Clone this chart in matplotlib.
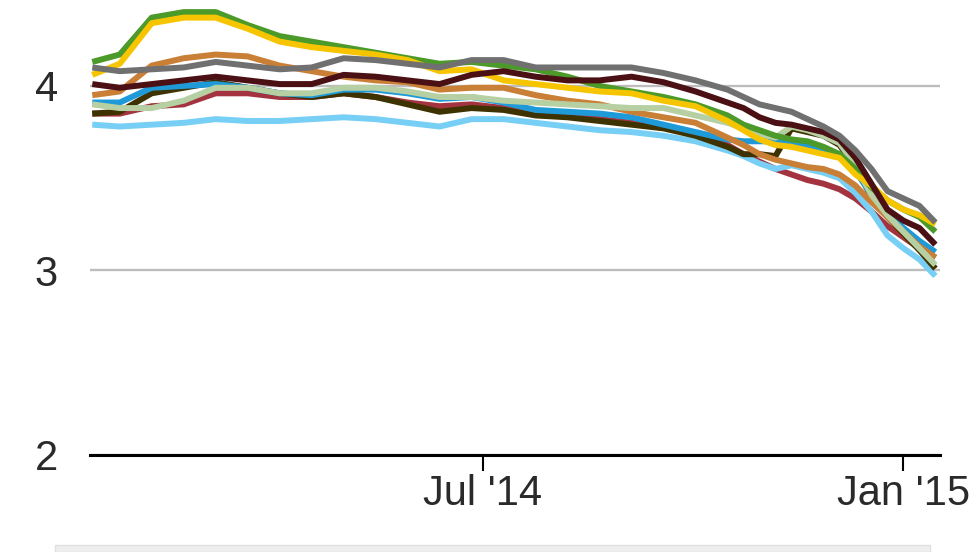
import matplotlib
matplotlib.use('Agg')
import matplotlib.pyplot as plt
from matplotlib.patches import Rectangle
from datetime import datetime

plt.rcParams['font.family'] = ['Liberation Sans', 'DejaVu Sans']

# fechas de cada lectura (quincenal al principio, semanal al final)
fechas_txt = [
    "2014-01-11", "2014-01-23", "2014-02-06", "2014-02-20", "2014-03-06",
    "2014-03-20", "2014-04-03", "2014-04-17", "2014-05-01", "2014-05-15",
    "2014-05-29", "2014-06-12", "2014-06-26", "2014-07-10", "2014-07-24",
    "2014-08-07", "2014-08-21", "2014-09-04", "2014-09-18", "2014-10-02",
    "2014-10-16", "2014-10-23", "2014-10-30", "2014-11-06", "2014-11-13",
    "2014-11-20", "2014-11-27", "2014-12-04", "2014-12-11", "2014-12-18",
    "2014-12-25", "2015-01-01", "2015-01-08", "2015-01-15",
]

verde = [4.13, 4.17, 4.37, 4.40, 4.40, 4.33, 4.27, 4.24, 4.21, 4.18, 4.15, 4.12,
         4.13, 4.11, 4.09, 4.05, 4.00, 3.97, 3.94, 3.90, 3.84, 3.79, 3.76, 3.73,
         3.71, 3.70, 3.67, 3.63, 3.55, 3.45, 3.38, 3.33, 3.29, 3.21]
amarillo = [4.06, 4.12, 4.34, 4.37, 4.37, 4.31, 4.24, 4.21, 4.19, 4.17, 4.14, 4.08,
            4.09, 4.03, 4.01, 3.99, 3.97, 3.96, 3.92, 3.89, 3.81, 3.76, 3.71, 3.68,
            3.67, 3.65, 3.63, 3.61, 3.52, 3.46, 3.38, 3.33, 3.30, 3.25]
gris = [4.10, 4.08, 4.09, 4.10, 4.13, 4.11, 4.09, 4.10, 4.15, 4.14, 4.12, 4.10,
        4.14, 4.14, 4.10, 4.10, 4.10, 4.10, 4.07, 4.03, 3.98, 3.94, 3.90, 3.88,
        3.86, 3.82, 3.78, 3.73, 3.65, 3.55, 3.43, 3.39, 3.35, 3.26]
granate = [4.01, 3.99, 4.01, 4.03, 4.05, 4.03, 4.01, 4.01, 4.06, 4.05, 4.03, 4.01,
           4.06, 4.08, 4.05, 4.03, 4.03, 4.05, 4.02, 3.97, 3.91, 3.88, 3.83, 3.80,
           3.79, 3.77, 3.75, 3.71, 3.61, 3.47, 3.33, 3.27, 3.23, 3.14]
ocre = [3.95, 3.97, 4.11, 4.15, 4.17, 4.16, 4.11, 4.08, 4.05, 4.03, 4.02, 3.98,
        3.99, 3.99, 3.95, 3.92, 3.90, 3.86, 3.83, 3.80, 3.72, 3.68, 3.63, 3.60,
        3.58, 3.56, 3.55, 3.52, 3.46, 3.37, 3.29, 3.21, 3.13, 3.07]
salvia = [3.90, 3.88, 3.88, 3.92, 3.99, 3.99, 3.96, 3.96, 3.99, 3.99, 3.97, 3.94,
          3.94, 3.92, 3.91, 3.90, 3.89, 3.88, 3.88, 3.84, 3.80, 3.77, 3.74, 3.72,
          3.78, 3.76, 3.73, 3.69, 3.57, 3.41, 3.30, 3.21, 3.12, 3.03]
oliva = [3.85, 3.86, 3.96, 3.99, 4.02, 3.99, 3.96, 3.94, 3.96, 3.94, 3.90, 3.86,
         3.88, 3.87, 3.84, 3.83, 3.81, 3.79, 3.77, 3.73, 3.67, 3.63, 3.63, 3.62,
         3.77, 3.75, 3.73, 3.68, 3.56, 3.40, 3.29, 3.20, 3.11, 3.01]
azul = [3.91, 3.91, 3.99, 4.00, 4.01, 3.99, 3.96, 3.95, 3.98, 3.98, 3.96, 3.93,
        3.94, 3.91, 3.87, 3.86, 3.85, 3.83, 3.79, 3.75, 3.71, 3.70, 3.70, 3.70,
        3.69, 3.68, 3.66, 3.63, 3.54, 3.41, 3.31, 3.23, 3.16, 3.10]
rojo = [3.85, 3.85, 3.89, 3.90, 3.96, 3.96, 3.94, 3.94, 3.96, 3.94, 3.91, 3.89,
        3.90, 3.88, 3.86, 3.84, 3.82, 3.80, 3.78, 3.73, 3.68, 3.63, 3.59, 3.55,
        3.52, 3.49, 3.47, 3.44, 3.39, 3.32, 3.24, 3.18, 3.12, 3.07]
celeste = [3.79, 3.78, 3.79, 3.80, 3.82, 3.81, 3.81, 3.82, 3.83, 3.82, 3.80, 3.78,
           3.82, 3.82, 3.80, 3.78, 3.76, 3.75, 3.73, 3.70, 3.65, 3.62, 3.58, 3.55,
           3.57, 3.55, 3.53, 3.50, 3.42, 3.32, 3.19, 3.12, 3.06, 2.97]

# orden de dibujo: de abajo hacia arriba
series = [
    (rojo, '#a3343f'),
    (celeste, '#78cff5'),
    (oliva, '#3d3200'),
    (azul, '#1f9ad8'),
    (ocre, '#c97f36'),
    (salvia, '#b7d0a3'),
    (verde, '#4c9a2a'),
    (amarillo, '#f6c500'),
    (granate, '#4a1014'),
    (gris, '#707070'),
]

ticks_x = [datetime(2014, 7, 1), datetime(2015, 1, 1)]
etiquetas_x = ["Jul '14", "Jan '15"]
ticks_y = [2, 3, 4]


def main():
    fechas = [datetime.strptime(f, "%Y-%m-%d") for f in fechas_txt]

    fig = plt.figure(figsize=(9.8, 5.52), dpi=100)
    ax = fig.add_axes([90 / 980, 97 / 552, 850 / 980, 455 / 552])

    for valores, color in series:
        ax.plot(fechas, valores, color=color, linewidth=4.3,
                solid_joinstyle='round', solid_capstyle='butt')

    ax.set_xlim(datetime(2014, 1, 10), datetime(2015, 1, 17))
    ax.set_ylim(2, 4.4656)

    ax.set_yticks(ticks_y)
    ax.set_yticklabels([str(v) for v in ticks_y])
    ax.set_xticks(ticks_x)
    ax.set_xticklabels(etiquetas_x)

    ax.grid(axis='y', color='#bdbdbd', linewidth=1.7)
    ax.set_axisbelow(True)

    for lado in ['top', 'right', 'left']:
        ax.spines[lado].set_visible(False)
    ax.spines['bottom'].set_color('black')
    ax.spines['bottom'].set_linewidth(2.2)

    ax.tick_params(axis='y', length=0, pad=23, labelsize=30, labelcolor='#2a2a2a')
    ax.tick_params(axis='x', length=11.5, width=1.5, color='black', pad=2,
                   labelsize=30, labelcolor='#2a2a2a')

    # franja gris del pie
    fig.patches.append(Rectangle((55 / 980, 0), 875 / 980, 7 / 552,
                                 transform=fig.transFigure, facecolor='#eeeeee',
                                 edgecolor='#e0e0e0', linewidth=1))

    fig.savefig('out.png', dpi=100)
    plt.close(fig)


if __name__ == "__main__":
    main()
